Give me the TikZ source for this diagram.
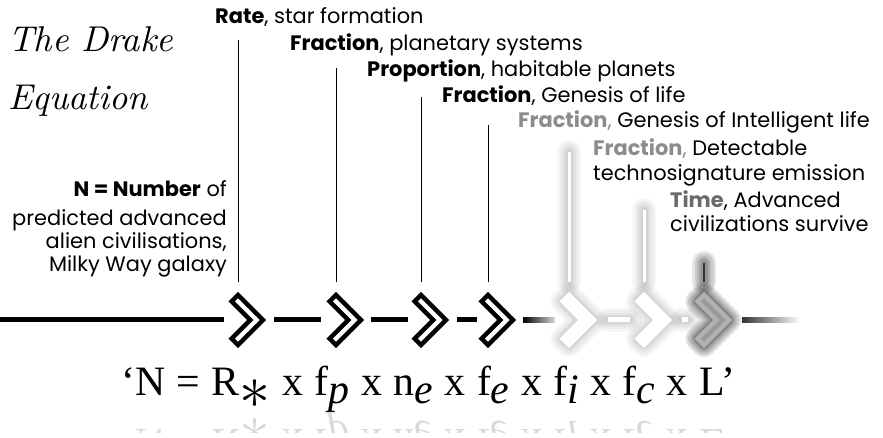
\documentclass[tikz,border=0pt]{standalone}
\usepackage{fontspec}
\setmainfont{Poppins}
\newfontfamily\eqfont{Liberation Serif}[WordSpace=1.1]
\newfontfamily\titlefont{lmroman10-regular.otf}[ItalicFont=lmroman10-italic.otf]
\usetikzlibrary{calc}

\definecolor{fadegray}{HTML}{8C8C8C}
\definecolor{timegray}{HTML}{6A6A6A}

% one chevron, left end at the origin
\newcommand\chev{(13,25) -- (38,0) -- (13,-25) -- (6.6,-18.6) -- (25.3,0) -- (6.6,18.6) -- cycle}
\newcommand\sbs[1]{\raisebox{-8bp}{\itshape #1}}
\newcommand\drakeeq{‘N = R\raisebox{-13bp}{\scalebox{2.5}{$\ast$}} x f\sbs{p} x n\sbs{e} x f\sbs{e} x f\sbs{i} x f\sbs{c} x L’}

\begin{document}
\begin{tikzpicture}[x=1bp, y=-1bp,
        lab/.style={font=\fontsize{21}{24}\selectfont, inner sep=0pt},
        stem/.style={line width=1bp},
        bar/.style={line width=5bp},
        chevron/.style={draw, line width=4.5bp, fill=white},
        glow/.style={preaction={draw=black, opacity=#1, line width=24bp, line join=round, line cap=round},
                     preaction={draw=black, opacity=#1, line width=19bp, line join=round, line cap=round},
                     preaction={draw=black, opacity=#1, line width=14bp, line join=round, line cap=round},
                     preaction={draw=black, opacity=#1, line width=10bp, line join=round, line cap=round},
                     preaction={draw=black, opacity=#1, line width=7bp, line join=round, line cap=round}},
        glow/.default=0.035]
    \fill[white] (0,0) rectangle (883,438);
    \useasboundingbox (0,0) rectangle (883,438);

    % title
    \node[anchor=base west, inner sep=0pt, font=\titlefont\itshape\fontsize{36}{36}\selectfont] (title1) at (8,52) {The Drake};
    \node[anchor=base west, inner sep=0pt, font=\titlefont\itshape\fontsize{36}{36}\selectfont] (title2) at (8,110) {Equation};

    % labels
    \node[lab, anchor=base east] (num1) at (227,197) {\textbf{N = Number} of};
    \node[lab, anchor=base east] (num2) at ($(num1.base east)+(0,29)$) {predicted advanced};
    \node[lab, anchor=base east] (num3) at ($(num2.base east)+(0,23)$) {alien civilisations,};
    \node[lab, anchor=base east] (num4) at ($(num3.base east)+(0,23)$) {Milky Way galaxy};
    \node[lab, anchor=base west] (rate) at (215,24) {\textbf{Rate}, star formation};
    \node[lab, anchor=base west] (fp) at (290,51) {\textbf{Fraction}, planetary systems};
    \node[lab, anchor=base west] (ne) at (367,77) {\textbf{Proportion}, habitable planets};
    \node[lab, anchor=base west] (fe) at (442,103) {\textbf{Fraction}, Genesis of life};
    \node[lab, anchor=base west] (fi) at (518,128) {\textcolor{fadegray}{\textbf{Fraction},} Genesis of Intelligent life};
    \node[lab, anchor=base west] (fc1) at (593,156) {\textcolor{fadegray}{\textbf{Fraction},} Detectable};
    \node[lab, anchor=base west] (fc2) at ($(fc1.base west)+(0,25)$) {technosignature emission};
    \node[lab, anchor=base west] (time1) at (670,208) {\textcolor{timegray}{\textbf{Time}}, Advanced};
    \node[lab, anchor=base west] (time2) at ($(time1.base west)+(0,24)$) {civilizations survive};

    % chevron positions and stems
    \foreach \i/\x/\top in {1/225/40, 2/323/68, 3/408/97, 4/475/125, 5/556/152, 6/631/210, 7/691/263} {
        \coordinate (c\i) at (\x,320);
        \coordinate (t\i) at (\x+13,\top);
        \coordinate (b\i) at (\x+13,282);
    }
    \coordinate (s0) at (0,320);
    \coordinate (s8) at (800,320);

    % line
    \draw[bar] (s0) -- ($(c1)+(-1,0)$);
    \draw[bar] ($(c1)+(49,0)$) -- ($(c2)+(-2,0)$);
    \draw[bar] ($(c2)+(48,0)$) -- ($(c3)+(0,0)$);
    \draw[bar] ($(c3)+(49,0)$) -- ($(c4)+(2,0)$);
    \shade[left color=black, right color=black!15] ($(c4)+(48,-2.5)$) rectangle ($(c5)+(-1,2.5)$);
    \draw[bar, white, glow] ($(c5)+(52,0)$) -- ($(c6)+(-1,0)$);
    \draw[bar, white, glow] ($(c6)+(51,0)$) -- ($(c7)+(-3,0)$);
    \shade[left color=black!80, right color=white] ($(c7)+(51,-2.5)$) rectangle ($(s8)+(0,2.5)$);

    % chevrons
    \foreach \i in {1,...,4} {
        \draw[stem] (t\i) -- (b\i);
        \draw[chevron, shift={(c\i)}] \chev;
    }
    \foreach \i in {5,6} {
        \draw[line width=3bp, white, glow] (t\i) -- (b\i);
        \draw[chevron, draw=white, glow, shift={(c\i)}] \chev;
    }
    \draw[line width=1.5bp, black!80, glow=0.1] (t7) -- (b7);
    \draw[chevron, draw=black!30, fill=black!40, glow=0.13, shift={(c7)}] \chev;

    % equation and its reflection
    \node[anchor=base west, inner sep=0pt, font=\eqfont\fontsize{42}{42}\selectfont] (eq) at (121,395) {\drakeeq};
    \begin{scope}
        \clip (0,404) rectangle (883,432);
        \node[anchor=base west, inner sep=0pt, yscale=-1, text=black!15, font=\eqfont\fontsize{42}{42}\selectfont] (refl) at (121,429) {\drakeeq};
    \end{scope}
\end{tikzpicture}
\end{document}
